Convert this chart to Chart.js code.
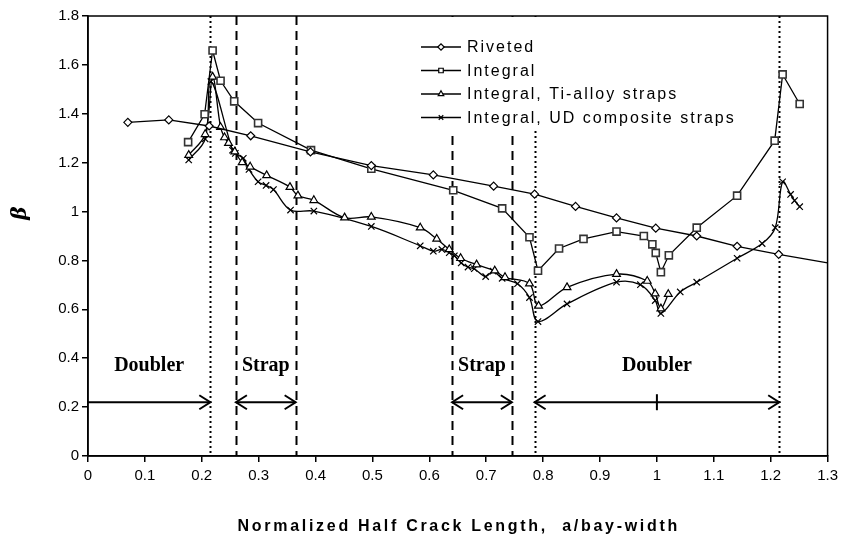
<!DOCTYPE html>
<html>
<head>
<meta charset="utf-8">
<script src="https://cdn.jsdelivr.net/npm/chart.js@4.4.1/dist/chart.umd.min.js"></script>
<style>
    html, body { margin: 0; padding: 0; background: #fff; }
    #wrap { width: 843px; height: 544px; }
</style>
</head>
<body>
<div id="wrap"><canvas id="chart" width="843" height="544"></canvas></div>
<script>
// Axis ticks
const xTickValues = [0, 0.1, 0.2, 0.3, 0.4, 0.5, 0.6, 0.7, 0.8, 0.9, 1, 1.1, 1.2, 1.3];
const yTickValues = [0, 0.2, 0.4, 0.6, 0.8, 1, 1.2, 1.4, 1.6, 1.8];

// Series
const seriesNames = ['Riveted', 'Integral', 'Integral, Ti-alloy straps', 'Integral, UD composite straps'];

const rivetedX = [0.07, 0.142, 0.213, 0.286, 0.391, 0.498, 0.607, 0.713, 0.785, 0.857, 0.929, 0.998, 1.07, 1.141, 1.214, 1.3];
const rivetedY = [1.365, 1.375, 1.35, 1.31, 1.244, 1.188, 1.15, 1.104, 1.071, 1.021, 0.974, 0.932, 0.9, 0.858, 0.825, 0.79];

const integralX = [0.176, 0.205, 0.219, 0.233, 0.257, 0.299, 0.392, 0.498, 0.642, 0.728, 0.776, 0.791, 0.828, 0.871, 0.929, 0.977, 0.992, 0.998, 1.007, 1.021, 1.07, 1.141, 1.207, 1.221, 1.251];
const integralY = [1.284, 1.398, 1.659, 1.535, 1.451, 1.362, 1.251, 1.175, 1.087, 1.013, 0.895, 0.758, 0.849, 0.888, 0.918, 0.9, 0.866, 0.831, 0.752, 0.821, 0.934, 1.065, 1.29, 1.561, 1.44];

const tiX = [0.177, 0.206, 0.219, 0.233, 0.24, 0.247, 0.258, 0.271, 0.285, 0.314, 0.355, 0.369, 0.397, 0.451, 0.498, 0.584, 0.613, 0.635, 0.655, 0.683, 0.715, 0.733, 0.776, 0.792, 0.842, 0.929, 0.983, 0.997, 1.007, 1.02];
const tiY = [1.231, 1.316, 1.551, 1.345, 1.303, 1.28, 1.245, 1.201, 1.183, 1.148, 1.1, 1.065, 1.046, 0.975, 0.978, 0.934, 0.888, 0.845, 0.809, 0.783, 0.758, 0.731, 0.705, 0.614, 0.69, 0.744, 0.716, 0.664, 0.603, 0.662];

const udX = [0.177, 0.206, 0.216, 0.254, 0.259, 0.273, 0.283, 0.299, 0.313, 0.326, 0.356, 0.397, 0.498, 0.584, 0.607, 0.622, 0.635, 0.644, 0.656, 0.668, 0.679, 0.699, 0.712, 0.728, 0.755, 0.776, 0.791, 0.842, 0.929, 0.971, 0.997, 1.007, 1.041, 1.07, 1.141, 1.185, 1.208, 1.221, 1.235, 1.242, 1.251];
const udY = [1.211, 1.297, 1.532, 1.251, 1.238, 1.218, 1.172, 1.122, 1.107, 1.09, 1.006, 1.002, 0.939, 0.86, 0.838, 0.845, 0.832, 0.819, 0.79, 0.773, 0.766, 0.734, 0.756, 0.727, 0.705, 0.648, 0.55, 0.622, 0.711, 0.701, 0.636, 0.583, 0.671, 0.711, 0.809, 0.869, 0.934, 1.122, 1.07, 1.045, 1.02];

// Reference lines and regions
const dottedAt = [0.215, 0.785, 1.215];
const dashedAt = [0.26, 0.365, 0.64, 0.745];
const regionLabels = ['Doubler', 'Strap', 'Strap', 'Doubler'];
const regionFrom = [0, 0.26, 0.64, 0.785];
const regionTo = [0.215, 0.365, 0.745, 1.215];
const regionBothHeads = [false, true, true, true];
const regionMarkAt = [null, null, null, 1.0];
const arrowLevel = 0.22;
const labelLevel = 0.368;

const xTitle = 'Normalized Half Crack Length,  a/bay-width';
const yTitle = 'β';

const tickFont = "'Liberation Sans', Arial, sans-serif";

function toPoints(xs, ys) {
    return xs.map((x, i) => ({ x: x, y: ys[i] }));
}

function baseDataset(label, xs, ys, style, radius, tension) {
    return {
        label: label,
        data: toPoints(xs, ys),
        showLine: true,
        fill: false,
        borderColor: '#000',
        borderWidth: 1.3,
        pointStyle: style,
        pointRadius: radius,
        pointBackgroundColor: '#fff',
        pointBorderColor: '#000',
        pointBorderWidth: 1.2,
        tension: tension
    };
}

const datasets = [
    baseDataset(seriesNames[0], rivetedX, rivetedY, 'rectRot',
        ctx => ctx.dataIndex === rivetedX.length - 1 ? 0 : 4, 0),
    baseDataset(seriesNames[1], integralX, integralY, 'rect', 5, 0),
    baseDataset(seriesNames[2], tiX, tiY, 'triangle', 4.5, 0.35),
    baseDataset(seriesNames[3], udX, udY, 'crossRot', 4.5, 0.35)
];
datasets[1].pointBorderColor = '#333';
datasets[1].pointBorderWidth = 1.6;

function vline(ctx, px, top, bottom) {
    ctx.beginPath();
    ctx.moveTo(px, top);
    ctx.lineTo(px, bottom);
    ctx.stroke();
}

function arrowHead(ctx, px, py, dir) {
    ctx.beginPath();
    ctx.moveTo(px - dir * 11, py - 7);
    ctx.lineTo(px, py);
    ctx.lineTo(px - dir * 11, py + 7);
    ctx.stroke();
}

const overlay = {
    id: 'overlay',
    beforeDatasetsDraw(chart) {
        const { ctx, chartArea: a, scales: { x, y } } = chart;
        ctx.save();
        ctx.strokeStyle = '#000';

        // vertical reference lines
        ctx.lineWidth = 2;
        ctx.setLineDash([2, 3]);
        dottedAt.forEach(v => vline(ctx, Math.round(x.getPixelForValue(v)) + 0.5, a.top, a.bottom));
        ctx.setLineDash([9, 6]);
        dashedAt.forEach(v => vline(ctx, Math.round(x.getPixelForValue(v)) + 0.5, a.top, a.bottom));
        ctx.setLineDash([]);

        // region arrows and labels
        const ay = y.getPixelForValue(arrowLevel);
        const ly = y.getPixelForValue(labelLevel);
        ctx.lineWidth = 2;
        ctx.font = "bold 20px 'Liberation Serif', 'Times New Roman', serif";
        ctx.fillStyle = '#000';
        ctx.textAlign = 'center';
        ctx.textBaseline = 'middle';
        regionLabels.forEach((lbl, i) => {
            const x1 = x.getPixelForValue(regionFrom[i]);
            const x2 = x.getPixelForValue(regionTo[i]);
            ctx.beginPath();
            ctx.moveTo(x1, ay);
            ctx.lineTo(x2, ay);
            ctx.stroke();
            arrowHead(ctx, x2, ay, 1);
            if (regionBothHeads[i]) arrowHead(ctx, x1, ay, -1);
            if (regionMarkAt[i] !== null) {
                const mx = x.getPixelForValue(regionMarkAt[i]);
                vline(ctx, mx, ay - 8, ay + 8);
            }
            ctx.fillText(lbl, (x1 + x2) / 2, ly);
        });
        ctx.restore();
    },
    afterDatasetsDraw(chart) {
        const { ctx, chartArea: a } = chart;
        ctx.save();
        // legend box (white, no border) inside the plot
        ctx.fillStyle = '#fff';
        ctx.fillRect(414, a.top + 1, 332, 130 - a.top);
        ctx.font = "16px " + tickFont;
        ctx.letterSpacing = '2px';
        ctx.textAlign = 'left';
        ctx.textBaseline = 'middle';
        chart.data.datasets.forEach((ds, i) => {
            const ly = 47 + i * 23.5;
            ctx.strokeStyle = '#000';
            ctx.lineWidth = 1.3;
            ctx.beginPath();
            ctx.moveTo(421, ly);
            ctx.lineTo(461, ly);
            ctx.stroke();
            ctx.fillStyle = '#fff';
            ctx.lineWidth = 1.2;
            Chart.helpers.drawPoint(ctx, {
                pointStyle: ds.pointStyle, rotation: 0, radius: 3.2, borderWidth: 1.2
            }, 441, ly);
            ctx.fillStyle = '#000';
            ctx.fillText(ds.label, 467, ly + 1);
        });
        ctx.restore();
    },
    afterDraw(chart) {
        const { ctx, chartArea: a } = chart;
        ctx.save();
        ctx.strokeStyle = '#000';
        ctx.lineWidth = 1.5;
        ctx.strokeRect(a.left, a.top, a.right - a.left, a.bottom - a.top);

        ctx.fillStyle = '#000';
        ctx.textAlign = 'center';
        ctx.textBaseline = 'middle';
        ctx.font = "bold 16px " + tickFont;
        ctx.letterSpacing = '2.7px';
        ctx.fillText(xTitle, (a.left + a.right) / 2 + 1, 527);

        ctx.letterSpacing = '0px';
        ctx.translate(21, 213);
        ctx.rotate(-Math.PI / 2);
        ctx.font = "italic bold 20px 'DejaVu Serif', 'Liberation Serif', serif";
        ctx.fillText(yTitle, 0, 0);
        ctx.restore();
    }
};

new Chart(document.getElementById('chart'), {
    type: 'scatter',
    data: { datasets: datasets },
    options: {
        responsive: false,
        animation: false,
        devicePixelRatio: 1,
        layout: { padding: { top: 16, right: 12, left: 0, bottom: 0 } },
        plugins: {
            legend: { display: false },
            tooltip: { enabled: false }
        },
        scales: {
            x: {
                type: 'linear',
                min: 0,
                max: 1.3,
                afterBuildTicks: s => { s.ticks = xTickValues.map(v => ({ value: v })); },
                afterFit: s => { s.height = 88; },
                border: { display: true, color: '#000', width: 1.5 },
                grid: { display: true, drawOnChartArea: false, drawTicks: true, tickLength: 6, color: '#000', lineWidth: 1.5 },
                ticks: {
                    color: '#000',
                    padding: 5,
                    maxRotation: 0,
                    autoSkip: false,
                    font: { family: tickFont, size: 15 },
                    callback: v => String(Math.round(v * 10) / 10)
                }
            },
            y: {
                type: 'linear',
                min: 0,
                max: 1.8,
                afterBuildTicks: s => { s.ticks = yTickValues.map(v => ({ value: v })); },
                afterFit: s => { s.width = 88; },
                border: { display: true, color: '#000', width: 1.5 },
                grid: { display: true, drawOnChartArea: false, drawTicks: true, tickLength: 6, color: '#000', lineWidth: 1.5 },
                ticks: {
                    color: '#000',
                    padding: 3,
                    autoSkip: false,
                    font: { family: tickFont, size: 15 },
                    callback: v => String(Math.round(v * 10) / 10)
                }
            }
        }
    },
    plugins: [overlay]
});
</script>
</body>
</html>
